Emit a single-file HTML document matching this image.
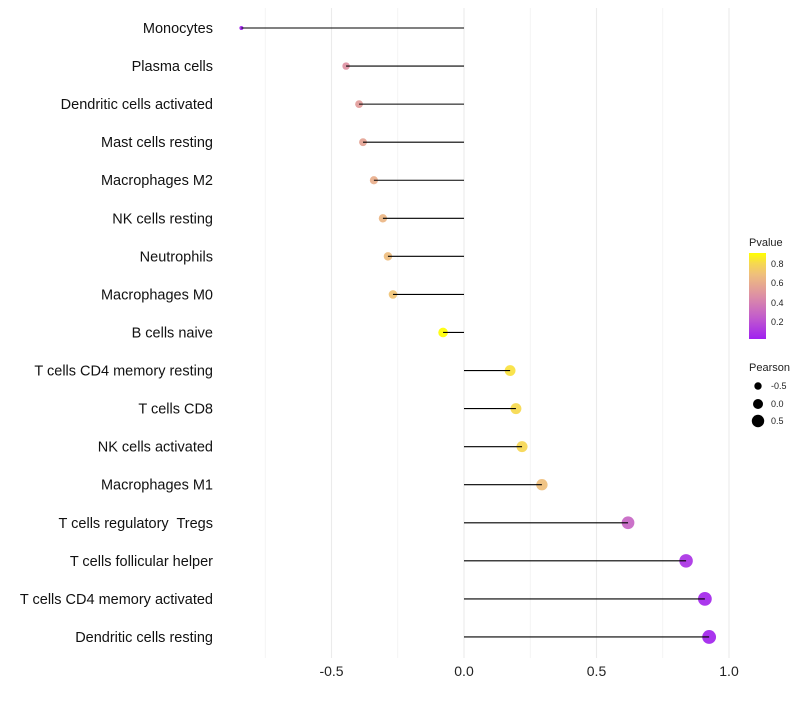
<!DOCTYPE html>
<html><head><meta charset="utf-8"><style>
body{margin:0;background:#fff;font-family:"Liberation Sans",sans-serif}
text{white-space:pre}
</style></head><body>
<svg id="chart" width="800" height="700" xmlns="http://www.w3.org/2000/svg">
<defs><linearGradient id="pg" x1="0" y1="1" x2="0" y2="0">
<stop offset="0" stop-color="#a020f0"/><stop offset="0.25" stop-color="#c25ccc"/><stop offset="0.5" stop-color="#dd8fa5"/><stop offset="0.75" stop-color="#efbf7c"/><stop offset="0.88" stop-color="#f6d850"/><stop offset="1" stop-color="#ffff00"/></linearGradient></defs>
<g id="grid"></g><g id="dots"></g><g id="marks"></g><g id="labels"></g>
<g>
<text x="749" y="246" font-size="11" fill="#222">Pvalue</text>
<rect x="749" y="253" width="17" height="86" fill="url(#pg)"/>
<text x="771" y="267" font-size="9" fill="#222">0.8</text>
<text x="771" y="286" font-size="9" fill="#222">0.6</text>
<text x="771" y="306" font-size="9" fill="#222">0.4</text>
<text x="771" y="325" font-size="9" fill="#222">0.2</text>
</g>
<g>
<text x="749" y="371" font-size="11" fill="#222">Pearson</text>
<circle cx="758" cy="386" r="3.7"/><text x="771" y="389" font-size="9" fill="#222">-0.5</text>
<circle cx="758" cy="404" r="5"/><text x="771" y="407" font-size="9" fill="#222">0.0</text>
<circle cx="758" cy="421" r="6.2"/><text x="771" y="424" font-size="9" fill="#222">0.5</text>
</g>
</svg>
<script>
const categories=["Monocytes","Plasma cells","Dendritic cells activated","Mast cells resting","Macrophages M2","NK cells resting","Neutrophils","Macrophages M0","B cells naive","T cells CD4 memory resting","T cells CD8","NK cells activated","Macrophages M1","T cells regulatory  Tregs","T cells follicular helper","T cells CD4 memory activated","Dendritic cells resting"];
const pearson=[-0.84,-0.445,-0.396,-0.381,-0.34,-0.306,-0.287,-0.268,-0.079,0.174,0.196,0.219,0.294,0.619,0.838,0.909,0.925];
const pvalues=[0.02,0.47,0.52,0.55,0.6,0.64,0.67,0.7,0.9,0.82,0.8,0.79,0.68,0.28,0.08,0.04,0.03];
const xTicks=[-0.5,0,0.5,1.0];
const xTickLabels=["-0.5","0.0","0.5","1.0"];
const minorTicks=[-0.75,-0.25,0.25,0.75];
const NS="http://www.w3.org/2000/svg";
const x=v=>464+v*265;
const y=i=>28+i*38.06;
const rad=v=>Math.sqrt(Math.max(1,25+24.7*v));
const stops=[[0,[160,32,240]],[0.25,[194,92,204]],[0.5,[221,143,165]],[0.75,[239,191,124]],[0.88,[246,216,80]],[1,[255,255,0]]];
function col(p){let t=(p-0.014)/(0.903-0.014);t=Math.max(0,Math.min(1,t));
for(let k=1;k<stops.length;k++){if(t<=stops[k][0]){const a=stops[k-1],b=stops[k];const f=(t-a[0])/(b[0]-a[0]);
return "rgb("+a[1].map((c,j)=>Math.round(c+(b[1][j]-c)*f)).join(",")+")";}}return "rgb(255,255,0)";}
function mk(tag,at,parent){const e=document.createElementNS(NS,tag);for(const k in at)e.setAttribute(k,at[k]);document.getElementById(parent).appendChild(e);return e;}
minorTicks.forEach(v=>{const l=mk("line",{x1:x(v),x2:x(v),y1:8,y2:658,stroke:"#f2f2f2","stroke-width":0.8},"grid");

});
xTicks.forEach((v,i)=>{const l=mk("line",{x1:x(v),x2:x(v),y1:8,y2:658,stroke:"#ebebeb","stroke-width":1.1},"grid");


const t=mk("text",{x:x(v),y:676,"font-size":14,"text-anchor":"middle",fill:"#222"},"labels");t.textContent=xTickLabels[i];

});
categories.forEach((c,i)=>{
const t=mk("text",{x:213,y:y(i)+5,"font-size":14.5,"text-anchor":"end",fill:"#111"},"labels");t.textContent=c;


const d=mk("circle",{cx:x(pearson[i]),cy:y(i),r:rad(pearson[i]),fill:col(pvalues[i]),"fill-opacity":0.92},"dots");


const l=mk("line",{x1:x(0),x2:x(pearson[i]),y1:y(i),y2:y(i),stroke:"#000","stroke-width":1.1},"marks");


});
</script>
</body></html>
